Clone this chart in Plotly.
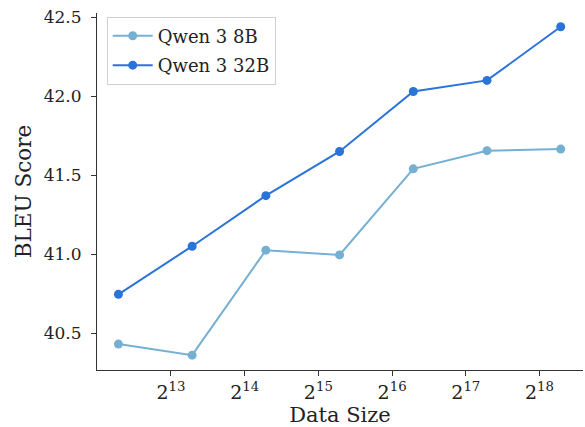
import math
import plotly.graph_objects as go

# Training data sizes (number of examples) and BLEU scores per model
data_sizes = [5000, 10000, 20000, 40000, 80000, 160000, 320000]
bleu_8b = [40.43, 40.36, 41.025, 40.995, 41.54, 41.655, 41.665]
bleu_32b = [40.745, 41.05, 41.37, 41.65, 42.03, 42.10, 42.44]
series_names = ["Qwen 3 8B", "Qwen 3 32B"]
tick_powers = [13, 14, 15, 16, 17, 18]

colors = ["#75b0d3", "#2a74d9"]
font_family = "DejaVu Serif"

fig = go.Figure()
for name, ys, col in zip(series_names, [bleu_8b, bleu_32b], colors):
    fig.add_trace(go.Scatter(
        x=data_sizes, y=ys, name=name, mode="lines+markers",
        legendgroup=name,
        line=dict(color=col, width=2),
        marker=dict(color=col, size=9),
    ))

fig.update_layout(
    width=585, height=427,
    margin=dict(l=97, r=2, t=13, b=57),
    plot_bgcolor="white", paper_bgcolor="white",
    font=dict(family=font_family, size=17, color="#222222"),
    showlegend=True,
    legend=dict(
        x=0.02, y=0.99, xanchor="left", yanchor="top",
        bgcolor="white", bordercolor="#d0d0d0", borderwidth=1,
        font=dict(family=font_family, size=18, color="#222222"),
        traceorder="grouped", tracegroupgap=3, itemwidth=40,
    ),
)

fig.update_xaxes(
    type="log",
    range=[11.997 * math.log10(2), 18.59 * math.log10(2)],
    tickvals=[2 ** p for p in tick_powers],
    ticktext=[f"2<sup>{p}</sup>" for p in tick_powers],
    tickfont=dict(size=19),
    showgrid=False, zeroline=False,
    showline=True, linecolor="#333333", linewidth=1,
    ticks="outside", ticklen=5, tickcolor="#333333",
    title=dict(text="Data Size", standoff=4, font=dict(size=21)),
)
fig.update_yaxes(
    range=[40.266, 42.527],
    tickvals=[40.5, 41.0, 41.5, 42.0, 42.5],
    ticktext=["40.5", "41.0", "41.5", "42.0", "42.5"],
    tickfont=dict(size=17),
    ticklabelstandoff=6,
    showgrid=False, zeroline=False,
    showline=True, linecolor="#333333", linewidth=1,
    ticks="outside", ticklen=5, tickcolor="#333333",
    title=dict(text="BLEU Score", standoff=6, font=dict(size=21.5)),
)

fig.write_html("out.html")
